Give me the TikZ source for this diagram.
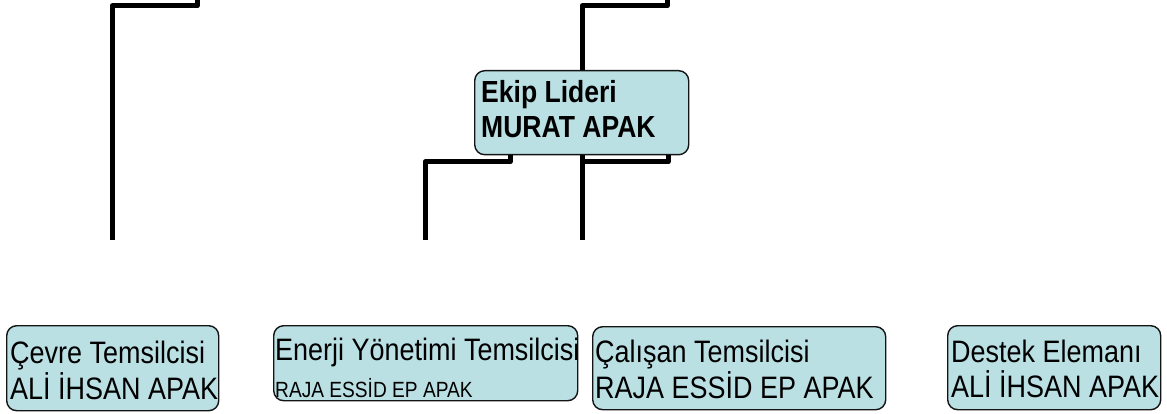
\documentclass[tikz,border=0pt]{standalone}
\usepackage{fontspec}
\setmainfont{Liberation Sans}[FakeStretch=0.87]
\definecolor{boxfill}{RGB}{186,224,228}
\definecolor{boxline}{RGB}{20,20,20}
\begin{document}
\begin{tikzpicture}[x=1pt,y=-1pt,
  orgbox/.style={draw=boxline,line width=1.4pt,fill=boxfill,rounded corners=10pt,
     rectangle,anchor=north west,inner sep=0pt,minimum width=#1},
  txt/.style={anchor=base west,inner sep=0pt,font=\fontsize{31}{36}\selectfont},
  bold/.style={txt,font=\fontsize{30.5}{36}\selectfont\bfseries},
  small/.style={txt,font=\fontsize{22}{26}\selectfont},
  conn/.style={line width=5pt,line join=round,draw=black}]
\useasboundingbox (0,0) rectangle (1167,414);
\clip (0,0) rectangle (1167,414);
\fill[white] (0,0) rectangle (1167,414);
% free ends of connectors
\coordinate (topA) at (197,-6);
\coordinate (topB) at (667,-6);
\coordinate (endA) at (112,240);
\coordinate (endB) at (425,240);
\coordinate (endC) at (582,240);
% connectors behind the leader box
\draw[conn] (topA) -- (197,6) -- (112,6) -- (endA);
\draw[conn] (topB) -- (667,6) -- (582,6) -- (endC);
% leader box
\node[orgbox=214pt,minimum height=84pt] (ekip) at (474,70) {};
\node[bold] (ekip1) at (481,103) {Ekip Lideri};
\node[bold] (ekip2) at (481,138) {MURAT APAK};
\draw[conn] (ekip.south -| 510,0) -- (510,162) -- (425,162) -- (endB);
\draw[conn] (ekip.south -| 668,0) -- (668,162) -- (582,162);
% bottom boxes
\node[orgbox=212pt,minimum height=85pt] (cevre) at (6,325) {};
\node[txt] (cevre1) at (10,363) {Çevre Temsilcisi};
\node[txt] (cevre2) at (10,399) {ALİ İHSAN APAK};
\node[orgbox=304pt,minimum height=75pt] (enerji) at (273,325) {};
\node[txt] (enerji1) at (275,360) {Enerji Yönetimi Temsilcisi};
\node[small] (enerji2) at (275,397) {RAJA ESSİD EP APAK};
\node[orgbox=293pt,minimum height=83pt] (calisan) at (592,326) {};
\node[txt] (calisan1) at (595,362) {Çalışan Temsilcisi};
\node[txt] (calisan2) at (595,398) {RAJA ESSİD EP APAK};
\node[orgbox=213pt,minimum height=84pt] (destek) at (947,325) {};
\node[txt] (destek1) at (951,362) {Destek Elemanı};
\node[txt] (destek2) at (951,397) {ALİ İHSAN APAK};
\end{tikzpicture}
\end{document}
